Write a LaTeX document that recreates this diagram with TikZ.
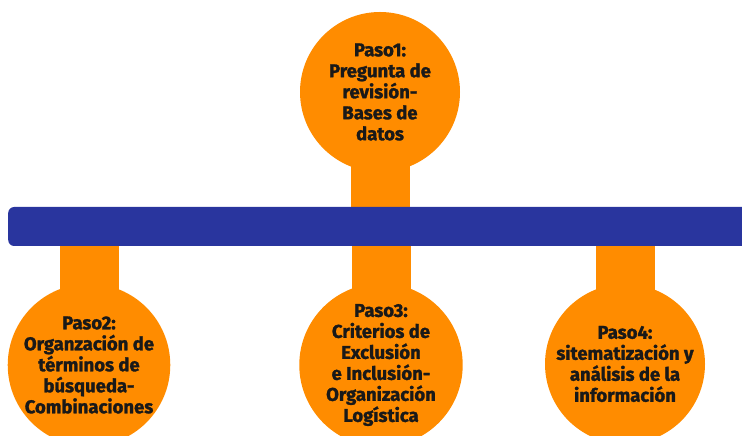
\documentclass[tikz,border=0pt]{standalone}
\usepackage{fontspec}
\setmainfont{Fira Sans}[BoldFeatures={FakeBold=1.5}]
\usetikzlibrary{positioning,backgrounds}
\definecolor{pasoorange}{RGB}{255,140,0}
\definecolor{barblue}{RGB}{41,53,158}
\begin{document}
\begin{tikzpicture}[x=1pt,y=1pt,paso/.style={circle,fill=pasoorange,minimum size=160pt,inner sep=0pt,align=center,text=black!90,font=\fontsize{18.5}{21}\selectfont\bfseries},stem/.style={pasoorange,line width=59pt},bar/.style={fill=barblue,rounded corners=6pt,minimum width=760pt,minimum height=39pt,inner sep=0pt}]
\clip (0,0) rectangle (742,436);
\node[bar,anchor=west] (bar) at (8,209.5) {};
\node[paso] (paso1) at (380,344) {Paso1:\\Pregunta de\\revisión-\\Bases de\\datos};
\node[paso] (paso2) at (89,71) {Paso2:\\Organzación de\\términos de\\búsqueda-\\Combinaciones};
\node[paso] (paso3) at (381,71) {Paso3:\\Criterios de\\Exclusión\\e Inclusión-\\Organización\\Logística};
\node[paso] (paso4) at (625,72) {Paso4:\\sitematización y\\análisis de la\\información};
% stems behind circles and bar
\begin{scope}[on background layer]
\draw[stem] (paso1.center) -- (paso1.center |- bar.center);
\draw[stem] (paso2.center) -- (paso2.center |- bar.center);
\draw[stem] (paso3.center) -- (paso3.center |- bar.center);
\draw[stem] (paso4.center) -- (paso4.center |- bar.center);
\end{scope}
\end{tikzpicture}
\end{document}
